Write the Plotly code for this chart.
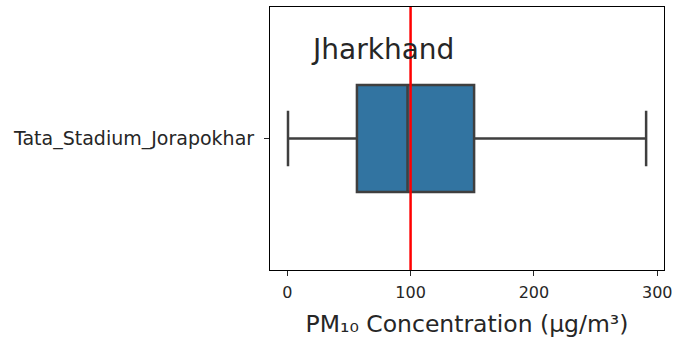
import plotly.graph_objects as go

stations = ["Tata_Stadium_Jorapokhar"]
q1 = [56.5]
median = [97.5]
q3 = [151.5]
lower_whisker = [0.6]
upper_whisker = [291.0]
reference_value = 100
state_name = "Jharkhand"
x_ticks = [0, 100, 200, 300]

fig = go.Figure()
fig.add_trace(go.Box(
    y=stations, q1=q1, median=median, q3=q3,
    lowerfence=lower_whisker, upperfence=upper_whisker,
    orientation="h", fillcolor="#3274a1",
    line=dict(color="#3f3f3f", width=2.5),
    whiskerwidth=0.52, width=0.406, boxpoints=False,
    showlegend=False, hoverinfo="skip",
))
fig.add_shape(type="line", x0=reference_value, x1=reference_value, y0=0, y1=1,
              xref="x", yref="paper", line=dict(color="red", width=2.5))
fig.add_annotation(text=state_name, x=77.5, y=0.84, xref="x", yref="paper",
                   xanchor="center", yanchor="middle",
                   showarrow=False, font=dict(size=28, color="#262626", family="DejaVu Sans"))

fig.update_layout(
    width=675, height=341,
    margin=dict(l=270, r=11, t=7, b=71),
    paper_bgcolor="white", plot_bgcolor="white",
    font=dict(family="DejaVu Sans", color="#262626", size=16),
)
fig.update_xaxes(range=[-14, 305.5], tickvals=x_ticks, ticks="outside", ticklen=5,
                 tickcolor="#262626", showline=True, linecolor="black", linewidth=1.2,
                 mirror=True, showgrid=False, zeroline=False, automargin=False,
                 ticklabelstandoff=3,
                 title=dict(text="PM₁₀ Concentration (μg/m³)", font=dict(size=23.5), standoff=14),
                 tickfont=dict(size=16))
fig.update_yaxes(range=[-0.5, 0.5], ticks="outside", ticklen=5, tickcolor="#262626",
                 showline=True, linecolor="black", linewidth=1.2, mirror=True,
                 showgrid=False, zeroline=False, automargin=False, ticklabelstandoff=6,
                 tickfont=dict(size=19))

fig.write_html("out.html", config={"displayModeBar": False},
               post_script="document.body.style.margin='0';")
